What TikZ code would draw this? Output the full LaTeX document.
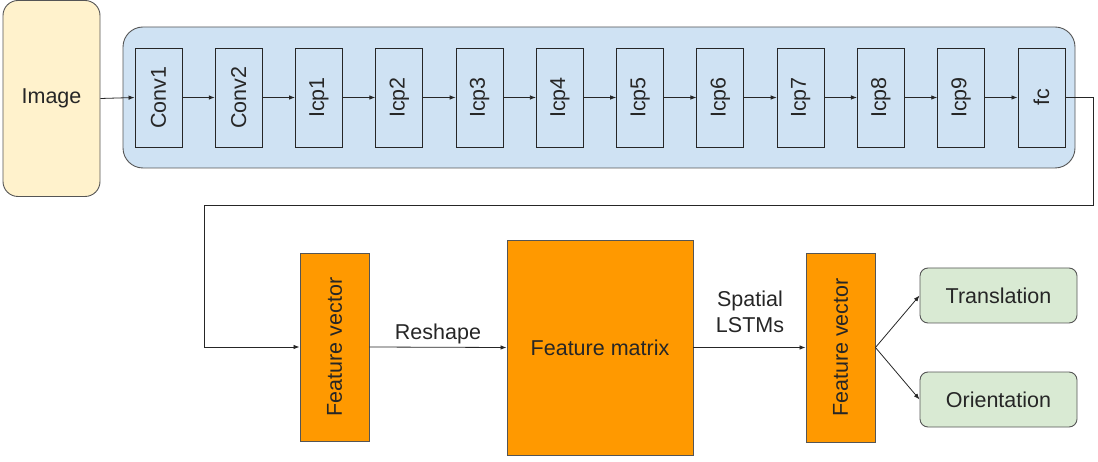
\documentclass[tikz,border=0pt]{standalone}
\usepackage{fontspec}
\setmainfont{Liberation Sans}
\usetikzlibrary{arrows.meta}
\definecolor{imgfill}{HTML}{FFF2CC}
\definecolor{bluefill}{HTML}{CFE2F3}
\definecolor{orangefill}{HTML}{FF9900}
\definecolor{greenfill}{HTML}{D9EAD3}
\definecolor{txt}{HTML}{262626}
\definecolor{edge}{HTML}{555555}
\begin{document}
\begin{tikzpicture}[x=1pt,y=-1pt,
  every node/.style={font=\fontsize{21.5}{25}\selectfont, text=txt, inner sep=0pt},
  imgbox/.style={draw=edge, line width=0.9pt, fill=imgfill, rounded corners=15pt, minimum width=97pt, minimum height=196pt},
  container/.style={draw=edge, line width=0.9pt, fill=bluefill, rounded corners=20pt, minimum width=952pt, minimum height=141pt},
  layerbox/.style={draw=txt, line width=0.9pt, fill=bluefill, rotate=90, minimum width=99pt, minimum height=47pt},
  featbox/.style={draw=edge, line width=0.9pt, fill=orangefill},
  outbox/.style={draw=edge, line width=0.9pt, fill=greenfill, rounded corners=8pt, minimum width=157pt, minimum height=55pt},
  conn/.style={draw=txt, line width=0.8pt, -{Latex[length=6pt,width=4.5pt]}},
  lbl/.style={align=center}
]
\useasboundingbox (0,0) rectangle (1098,462);
\node[imgbox] (img) at (51.5,98.5) {Image};
\node[container] (cnn) at (599,97.5) {};
\foreach \n/\t [count=\i from 0] in {conv1/Conv1,conv2/Conv2,icp1/Icp1,icp2/Icp2,icp3/Icp3,icp4/Icp4,icp5/Icp5,icp6/Icp6,icp7/Icp7,icp8/Icp8,icp9/Icp9,fc/fc}{
  \node[layerbox] (\n) at ({158.5+80.27*\i},97.5) {\t};
}
\draw[conn] (img.east) -- (conv1.north);
\foreach \a/\b in {conv1/conv2,conv2/icp1,icp1/icp2,icp2/icp3,icp3/icp4,icp4/icp5,icp5/icp6,icp6/icp7,icp7/icp8,icp8/icp9,icp9/fc}{
  \draw[conn] (\a.south) -- (\b.north);
}
\node[featbox, minimum width=188pt, minimum height=69pt, rotate=90] (fv1) at (334.5,347) {Feature vector};
\node[featbox, minimum width=186pt, minimum height=215pt] (fm) at (600,347.5) {Feature matrix};
\node[featbox, minimum width=189pt, minimum height=69pt, rotate=90] (fv2) at (840.5,347.5) {Feature vector};
\node[outbox] (tr) at (998.5,295.5) {Translation};
\node[outbox] (or) at (998.5,399.5) {Orientation};
\coordinate (c1) at (1093,97.5);
\coordinate (c2) at (1093,205);
\coordinate (c3) at (204,205);
\draw[conn] (fc.south) -- (c1) -- (c2) -- (c3) |- (fv1.north);
\draw[conn] (fv1.south) -- node[above=3pt, lbl] (reshape) {Reshape} (fm.west);
\draw[conn] (fm.east) -- (fv2.north);
\node[lbl, font=\fontsize{21.5}{26}\selectfont] (lstm) at (750,312) {Spatial\\LSTMs};
\draw[conn] (fv2.south) -- (tr.west);
\draw[conn] (fv2.south) -- (or.west);
\end{tikzpicture}
\end{document}
